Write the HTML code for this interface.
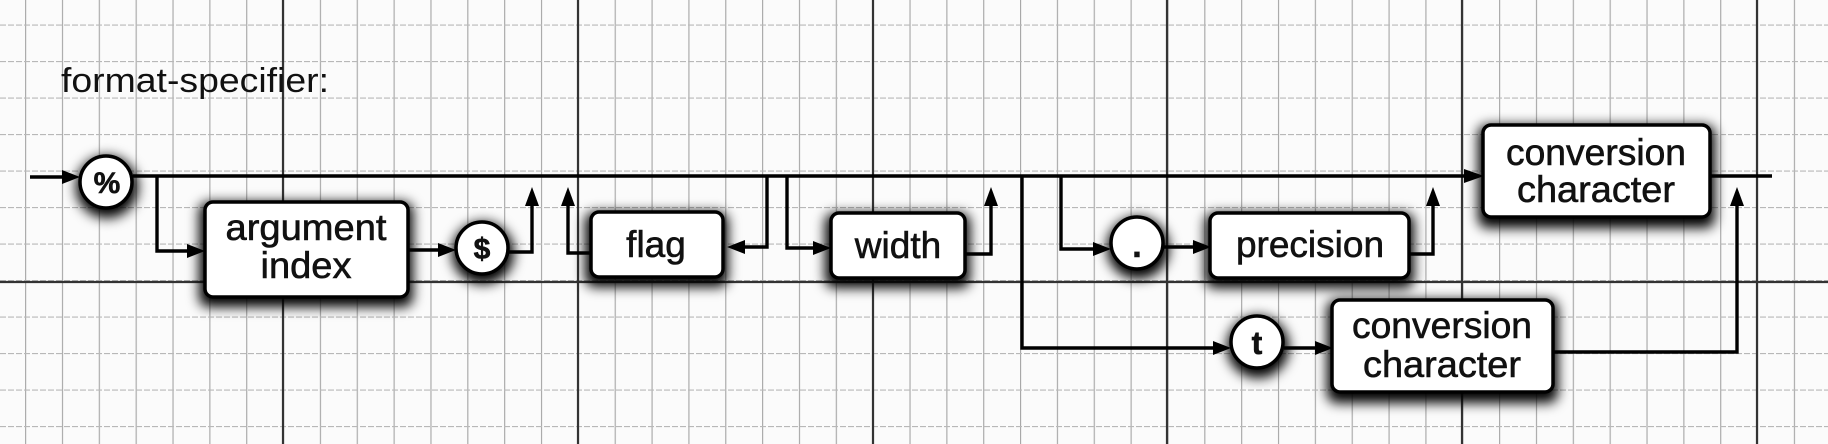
<!DOCTYPE html>
<html><head><meta charset="utf-8"><style>
html,body{margin:0;padding:0;background:#fff;}
svg{display:block;}
text{font-family:"Liberation Sans",Arial,sans-serif;fill:#111;}
</style></head><body>
<svg width="1828" height="444" viewBox="0 0 1828 444" xmlns="http://www.w3.org/2000/svg">
<defs>
<filter id="sh" x="-20%" y="-30%" width="140%" height="170%">
<feGaussianBlur stdDeviation="6"/>
</filter>
<pattern id="gv" width="36.85" height="444" patternUnits="userSpaceOnUse" x="246.15">
<line x1="0.5" y1="0" x2="0.5" y2="444" stroke="#a8a8a8" stroke-width="1.3"/>
</pattern>
<pattern id="gh" width="1828" height="36.5" patternUnits="userSpaceOnUse" y="243.5">
<line x1="0" y1="0.5" x2="1828" y2="0.5" stroke="#b8b8b8" stroke-width="1.3" stroke-dasharray="6 2"/>
</pattern>
<g id="shapes">
<circle cx="107" cy="187" r="31"/>
<rect x="199" y="202" width="214" height="105" rx="10"/>
<circle cx="483" cy="253" r="31"/>
<rect x="585" y="212" width="143" height="75" rx="10"/>
<rect x="825" y="213" width="145" height="75" rx="10"/>
<circle cx="1138" cy="248" r="31"/>
<rect x="1205" y="213" width="209" height="75" rx="10"/>
<rect x="1478" y="125" width="237" height="103" rx="10"/>
<circle cx="1258" cy="347" r="31"/>
<rect x="1327" y="300" width="231" height="103" rx="10"/>
</g>
</defs>
<rect width="1828" height="444" fill="#fbfbfb"/>
<rect width="1828" height="444" fill="url(#gv)"/>
<rect width="1828" height="444" fill="url(#gh)"/>
<g stroke="#333" stroke-width="2.2">
<line x1="283" y1="0" x2="283" y2="444"/><line x1="578" y1="0" x2="578" y2="444"/>
<line x1="873" y1="0" x2="873" y2="444"/><line x1="1167" y1="0" x2="1167" y2="444"/>
<line x1="1462" y1="0" x2="1462" y2="444"/><line x1="1757" y1="0" x2="1757" y2="444"/>
<line x1="0" y1="282" x2="1828" y2="282"/>
</g>

<text x="61" y="92" font-size="34" textLength="268" lengthAdjust="spacingAndGlyphs">format-specifier:</text>

<!-- shadows -->
<g fill="#000" filter="url(#sh)">
<use href="#shapes"/>
<use href="#shapes"/>
</g>

<!-- lines -->
<g stroke="#000" stroke-width="3.4" fill="none">
<line x1="30" y1="177" x2="70" y2="177"/>
<line x1="133" y1="176" x2="1470" y2="176"/>
<line x1="1710" y1="176" x2="1772" y2="176"/>
<polyline points="157,176 157,251 192,251"/>
<line x1="408" y1="250" x2="444" y2="250"/>
<polyline points="509,252 532,252 532,200"/>
<polyline points="590,253 568,253 568,200"/>
<polyline points="767,176 767,247 740,247"/>
<polyline points="787,176 787,248 818,248"/>
<polyline points="965,254 991,254 991,200"/>
<polyline points="1061,176 1061,249 1098,249"/>
<line x1="1164" y1="247" x2="1198" y2="247"/>
<polyline points="1409,254 1433,254 1433,200"/>
<polyline points="1022,176 1022,348 1218,348"/>
<line x1="1284" y1="348" x2="1320" y2="348"/>
<polyline points="1553,352 1737,352 1737,200"/>
</g>
<!-- arrowheads -->
<g fill="#000">
<polygon points="80,177 62,170 62,184"/>
<polygon points="205,251 187,244 187,258"/>
<polygon points="456,250 438,243 438,257"/>
<polygon points="532,187 525,206 539,206"/>
<polygon points="568,187 561,206 575,206"/>
<polygon points="727,247 745,240 745,254"/>
<polygon points="831,248 813,241 813,255"/>
<polygon points="991,187 984,206 998,206"/>
<polygon points="1111,249 1093,242 1093,256"/>
<polygon points="1211,247 1193,240 1193,254"/>
<polygon points="1433,187 1426,206 1440,206"/>
<polygon points="1484,176 1464,169 1464,183"/>
<polygon points="1231,348 1213,341 1213,355"/>
<polygon points="1333,348 1315,341 1315,355"/>
<polygon points="1737,187 1730,206 1744,206"/>
</g>

<!-- nodes -->
<g fill="#fff" stroke="#000" stroke-width="3.5">
<circle cx="106" cy="182" r="26"/>
<rect x="205" y="202" width="203" height="95" rx="8"/>
<circle cx="482" cy="248" r="26"/>
<rect x="591" y="212" width="132" height="65" rx="8"/>
<rect x="831" y="213" width="134" height="65" rx="8"/>
<circle cx="1137" cy="243" r="26"/>
<rect x="1210" y="213" width="199" height="65" rx="8"/>
<rect x="1483" y="125" width="227" height="92" rx="8"/>
<circle cx="1257" cy="342" r="26"/>
<rect x="1332" y="300" width="221" height="92" rx="8"/>
</g>

<g text-anchor="middle" font-size="37" stroke="#111" stroke-width="0.6">
<text x="107" y="193" font-size="30" font-weight="bold">%</text>
<text x="306" y="240" textLength="161" lengthAdjust="spacingAndGlyphs">argument</text>
<text x="306" y="278" textLength="91" lengthAdjust="spacingAndGlyphs">index</text>
<text x="482" y="259" font-size="30" font-weight="bold">$</text>
<text x="656" y="257">flag</text>
<text x="898" y="258">width</text>
<text x="1137" y="257" font-size="34" font-weight="bold">.</text>
<text x="1310" y="257">precision</text>
<text x="1596" y="165" textLength="180" lengthAdjust="spacingAndGlyphs">conversion</text>
<text x="1596" y="202" textLength="158" lengthAdjust="spacingAndGlyphs">character</text>
<text x="1257" y="354" font-size="32" font-weight="bold">t</text>
<text x="1442" y="338" textLength="180" lengthAdjust="spacingAndGlyphs">conversion</text>
<text x="1442" y="377" textLength="158" lengthAdjust="spacingAndGlyphs">character</text>
</g>
</svg>
</body></html>
